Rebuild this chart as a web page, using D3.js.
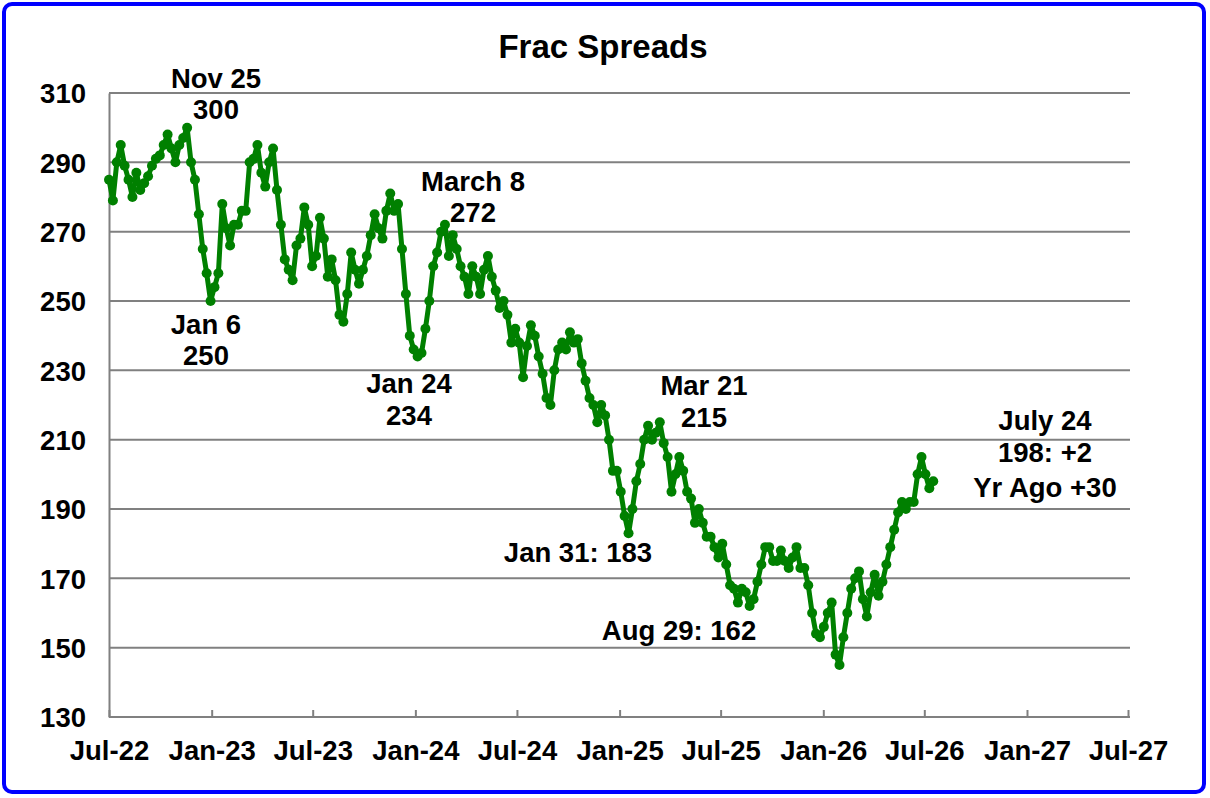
<!DOCTYPE html>
<html><head><meta charset="utf-8">
<script src="https://cdn.jsdelivr.net/npm/d3@7"></script>
<style>
body{margin:0;background:#fff;}
svg{display:block;}
text{font-family:"Liberation Sans",Arial,Helvetica,sans-serif;font-weight:bold;fill:#000;}
</style>
</head><body>
<svg id="chart" width="1210" height="798"></svg>
<script>
// ---- data ----
const title = "Frac Spreads";
const firstWeek = "2022-07-01";   // weekly series, one value per week
const fracSpreads = [
  285,279,290,295,289,285,280,287,282,284,286,289,291,292,295,298,294,290,295,297,300,290,285,275,265,258,250,
  254,258,278,271,266,272,272,276,276,290,291,295,287,283,290,294,282,272,262,259,256,266,268,277,272,260,263,
  274,268,257,262,256,246,244,252,264,259,255,259,263,269,275,271,268,276,281,276,278,265,252,240,236,234,
  235,242,250,260,264,270,272,263,269,265,260,257,252,260,257,252,259,263,257,253,248,250,246,238,242,238,228,
  237,243,240,234,229,222,220,230,236,238,236,241,238,239,232,227,222,220,215,220,217,210,201,201,195,188,
  183,190,198,203,210,214,210,212,215,209,205,195,200,205,201,195,193,186,190,186,182,182,179,
  176,180,174,168,167,163,167,166,162,164,169,174,179,179,175,175,178,175,173,176,179,173,173,168,160,154,153,156,160,163,148,145,
  153,160,167,170,172,164,159,166,171,165,169,174,179,184,189,192,190,192,192,200,205,200,196,198
];
const yTickValues = [130,150,170,190,210,230,250,270,290,310];
const xTickDates = ["2022-07-01","2023-01-01","2023-07-01","2024-01-01","2024-07-01","2025-01-01",
                    "2025-07-01","2026-01-01","2026-07-01","2027-01-01","2027-07-01"];
const xTickLabels = ["Jul-22","Jan-23","Jul-23","Jan-24","Jul-24","Jan-25","Jul-25","Jan-26","Jul-26","Jan-27","Jul-27"];
const noteTexts = [
  ["Nov 25","300"],
  ["Jan 6","250"],
  ["March 8","272"],
  ["Jan 24","234"],
  ["Mar 21","215"],
  ["Jan 31: 183"],
  ["Aug 29: 162"],
  ["July 24","198: +2","Yr Ago +30"]
];

// ---- layout ----
const W = 1210, H = 798;
const plot = {left:109, right:1128, top:93, bottom:717};
const svg = d3.select("#chart");
const parse = d3.utcParse("%Y-%m-%d");
const t0 = parse(firstWeek);
const series = fracSpreads.map((v,i)=>({date:d3.utcDay.offset(t0, i*7), value:v}));

const x = d3.scaleUtc().domain([parse(xTickDates[0]), parse(xTickDates[xTickDates.length-1])])
            .range([plot.left, plot.right]);
const y = d3.scaleLinear().domain([130,310]).range([plot.bottom, plot.top]);

svg.append("rect").attr("width",W).attr("height",H).attr("fill","#fff");

// gridlines
svg.append("g").selectAll("line").data(yTickValues.filter(v=>v>130)).join("line")
  .attr("x1",plot.left).attr("x2",plot.right+2)
  .attr("y1",d=>y(d)).attr("y2",d=>y(d))
  .attr("stroke","#808080").attr("stroke-width",2);

// y axis
const yAxis = svg.append("g").attr("transform",`translate(${plot.left},0)`)
  .call(d3.axisLeft(y).tickValues(yTickValues).tickSize(0).tickPadding(23).tickFormat(d3.format("d")));
yAxis.select(".domain").attr("stroke","#808080").attr("stroke-width",2);
yAxis.selectAll("text").attr("font-size","27.5px").attr("font-family",'"Liberation Sans",Arial,sans-serif')
  .attr("font-weight","bold").attr("fill","#000").attr("dy","0.36em");

// x axis
const xAxis = svg.append("g").attr("transform",`translate(0,${plot.bottom})`)
  .call(d3.axisBottom(x).tickValues(xTickDates.map(parse)).tickSize(-7).tickPadding(0)
        .tickFormat((d,i)=>xTickLabels[i]));
xAxis.select(".domain").attr("stroke","#808080").attr("stroke-width",2).attr("d",`M${plot.left},0H${plot.right+2}`);
xAxis.selectAll(".tick line").attr("stroke","#808080").attr("stroke-width",2);
xAxis.selectAll("text").attr("font-size","27.5px").attr("font-family",'"Liberation Sans",Arial,sans-serif')
  .attr("font-weight","bold").attr("fill","#000").attr("y",43).attr("dy",0);

// line + markers
const line = d3.line().x(d=>x(d.date)).y(d=>y(d.value));
svg.append("path").datum(series).attr("d",line)
  .attr("fill","none").attr("stroke","#008000").attr("stroke-width",5).attr("stroke-linejoin","round");
svg.append("g").selectAll("circle").data(series).join("circle")
  .attr("cx",d=>x(d.date)).attr("cy",d=>y(d.value)).attr("r",5).attr("fill","#008000");

// title
svg.append("text").attr("x",603).attr("y",58).attr("text-anchor","middle")
  .attr("font-size","33px").text(title);

// annotations
const notePos = [
  {x:216, y:[88,119]},
  {x:206, y:[334,365]},
  {x:473, y:[191,222]},
  {x:409, y:[393,425]},
  {x:704, y:[395,427]},
  {x:578, y:[562]},
  {x:679, y:[640]},
  {x:1045, y:[430,462,497]}
];
noteTexts.forEach((lines,i)=>{
  lines.forEach((s,j)=>{
    svg.append("text").attr("x",notePos[i].x).attr("y",notePos[i].y[j])
      .attr("text-anchor","middle").attr("font-size","27.5px").text(s);
  });
});

// border
svg.append("rect").attr("x",4).attr("y",4).attr("width",1200).attr("height",788)
  .attr("rx",8).attr("fill","none").attr("stroke","#0000ff").attr("stroke-width",4);
</script>
</body></html>
